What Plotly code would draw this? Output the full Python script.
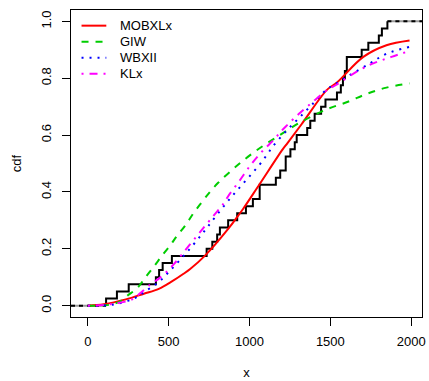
import numpy as np
import plotly.graph_objects as go

# ---- data ----
# observed sample (sorted, ties repeated) -> empirical cdf
sample = [113, 180, 253, 421, 441, 463, 520, 735, 770, 800,
          817, 868, 924, 978, 1021, 1063, 1063, 1163, 1190, 1224,
          1224, 1253, 1280, 1292, 1357, 1376, 1403, 1443, 1470, 1541,
          1565, 1578, 1590, 1602, 1602, 1694, 1735, 1800, 1819, 1853]

mob_x = [0, 100, 235, 347, 439, 520, 592, 633, 725, 868, 929, 959, 1062, 1204, 1235, 1327, 1479, 1541, 1704, 1847, 1990]
mob_y = [0.0, 0.005, 0.022, 0.042, 0.059, 0.085, 0.112, 0.129, 0.176, 0.27, 0.316, 0.339, 0.427, 0.549, 0.572, 0.642, 0.759, 0.785, 0.875, 0.916, 0.933]

giw_x = [0, 100, 150, 200, 247, 306, 357, 408, 459, 511, 551, 602, 653, 704, 755, 806, 918, 1041, 1174, 1306, 1471, 1613, 1725, 1847, 1990]
giw_y = [0.0, 0.0005, 0.005, 0.015, 0.036, 0.062, 0.1, 0.137, 0.176, 0.213, 0.245, 0.281, 0.325, 0.363, 0.4, 0.432, 0.49, 0.545, 0.595, 0.642, 0.689, 0.718, 0.745, 0.767, 0.782]

wbx_x = [0, 150, 286, 367, 439, 500, 572, 643, 704, 745, 806, 867, 929, 1000, 1071, 1153, 1235, 1306, 1388, 1480, 1521, 1602, 1745, 1847, 1990]
wbx_y = [0.0, 0.003, 0.025, 0.055, 0.083, 0.118, 0.162, 0.208, 0.25, 0.28, 0.325, 0.368, 0.409, 0.455, 0.502, 0.566, 0.619, 0.66, 0.708, 0.762, 0.776, 0.805, 0.852, 0.886, 0.91]

klx_x = [0, 100, 174, 266, 327, 388, 439, 480, 531, 582, 653, 725, 786, 837, 868, 939, 1010, 1082, 1153, 1195, 1235, 1306, 1388, 1480, 1541, 1663, 1765, 1878, 1990]
klx_y = [0.0, 0.002, 0.008, 0.02, 0.045, 0.075, 0.095, 0.115, 0.145, 0.18, 0.23, 0.28, 0.322, 0.357, 0.385, 0.44, 0.497, 0.545, 0.585, 0.613, 0.636, 0.675, 0.715, 0.758, 0.778, 0.823, 0.852, 0.875, 0.896]

series_names = ["MOBXLx", "GIW", "WBXII", "KLx"]

x_ticks = [0, 500, 1000, 1500, 2000]
y_ticks = [0.0, 0.2, 0.4, 0.6, 0.8, 1.0]
y_ticklabels = ["0.0", "0.2", "0.4", "0.6", "0.8", "1.0"]

# ---- layout / style constants ----
X_RANGE = [-104, 2067]
Y_RANGE = [-0.04, 1.04]
FONT = "Liberation Sans, Arial, Helvetica, sans-serif"
STYLES = [dict(color="#ff0000", width=2),
          dict(color="#00cd00", width=2, dash="7px,7px"),
          dict(color="#0000ff", width=2, dash="2px,6px"),
          dict(color="#ff00ff", width=2, dash="2px,6px,8px,6px")]

# empirical cdf from the sample
vals, counts = np.unique(np.array(sample), return_counts=True)
cum = np.cumsum(counts) / len(sample)
step_x = [vals[0]] + list(vals)
step_y = [0.0] + list(cum)

fig = go.Figure()

# left / right extensions of the ecdf (grey with black dashes)
for ex, ey in (([X_RANGE[0], vals[0]], [0, 0]), ([vals[-1], X_RANGE[1]], [1, 1])):
    fig.add_trace(go.Scatter(x=ex, y=ey, mode="lines", showlegend=False, hoverinfo="skip",
                             line=dict(color="#9a9a9a", width=2)))
    fig.add_trace(go.Scatter(x=ex, y=ey, mode="lines", showlegend=False, hoverinfo="skip",
                             line=dict(color="black", width=2, dash="4px,4px")))

fig.add_trace(go.Scatter(x=step_x, y=step_y, mode="lines", line_shape="hv", showlegend=False,
                         line=dict(color="black", width=2), name="ecdf"))

for name, xs, ys, st in zip(series_names, [mob_x, giw_x, wbx_x, klx_x],
                            [mob_y, giw_y, wbx_y, klx_y], STYLES):
    fig.add_trace(go.Scatter(x=xs, y=ys, mode="lines", name=name, line_shape="spline",
                             line=st, showlegend=False))

# R-style legend without a box (top-left, inside the plot), rows 16px apart
LEG_X0, LEG_X1, LEG_TX = 0.030, 0.1006, 0.1332
LEG_Y0, LEG_DY = 0.949, 0.0523
for i, (name, st) in enumerate(zip(series_names, STYLES)):
    yy = LEG_Y0 - i * LEG_DY
    fig.add_shape(type="line", xref="paper", yref="paper", x0=LEG_X0, x1=LEG_X1, y0=yy, y1=yy,
                  line=st)
    fig.add_annotation(xref="paper", yref="paper", x=LEG_TX, y=yy, text=name, showarrow=False,
                       xanchor="left", yanchor="middle", font=dict(size=13, color="black"))

fig.update_layout(
    width=429, height=381,
    margin=dict(l=71, r=3, t=10, b=63),
    paper_bgcolor="white", plot_bgcolor="white",
    font=dict(family=FONT, size=13, color="black"),
    showlegend=False,
    xaxis=dict(range=X_RANGE, tickvals=x_ticks, ticks="outside", ticklen=8, tickwidth=1,
               tickcolor="black", showgrid=False, zeroline=False, showline=True, mirror=True,
               linecolor="black", linewidth=1, ticklabelstandoff=4, ticklabeloverflow="allow",
               title=dict(text="x", standoff=20, font=dict(size=13))),
    yaxis=dict(range=Y_RANGE, tickvals=y_ticks, ticktext=y_ticklabels, ticks="outside",
               ticklen=8, tickwidth=1, tickcolor="black", tickangle=-90, showgrid=False,
               zeroline=False, showline=True, mirror=True, linecolor="black", linewidth=1,
               ticklabelstandoff=6,
               title=dict(text="cdf", standoff=14, font=dict(size=13))),
)

# remove the browser's default 8px page margin so the figure fills the window exactly
fig.write_html("out.html",
               config={"displayModeBar": False},
               post_script="document.body.style.margin='0px';document.body.style.overflow='hidden';")
